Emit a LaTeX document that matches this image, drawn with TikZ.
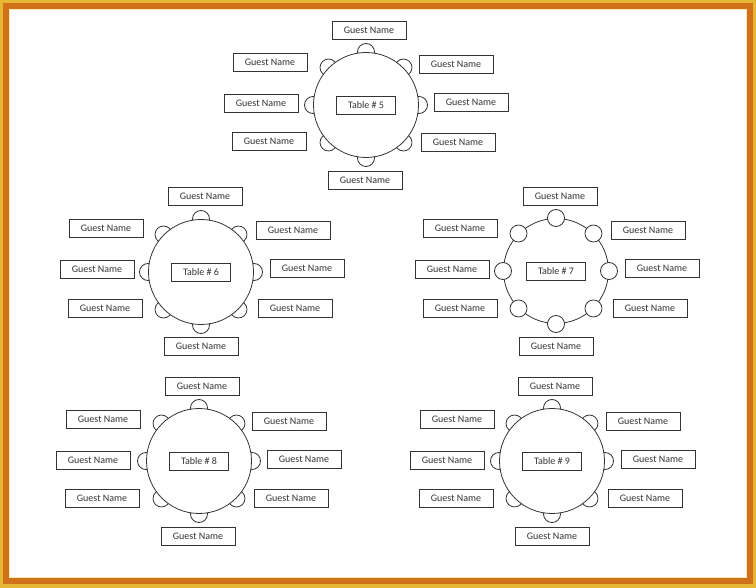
\documentclass[tikz,border=0pt]{standalone}
\usepackage{fontspec}
\setmainfont{Carlito}
\usepackage{tikz}
\definecolor{frameorange}{HTML}{D2711C}
\definecolor{framegold}{HTML}{E6B735}
\definecolor{framelight}{HTML}{F6EBA8}
\definecolor{inkgray}{HTML}{333333}

\begin{document}
\begin{tikzpicture}[x=1pt, y=-1pt,
  every node/.style={font=\fontsize{10}{12}\selectfont, text=inkgray},
  guest/.style={rectangle, draw=inkgray, line width=0.8pt, fill=white, minimum width=74pt, minimum height=18pt, inner sep=0pt},
  tablelabel/.style={rectangle, draw=inkgray, line width=0.8pt, fill=white, minimum width=59pt, minimum height=18pt, inner sep=0pt},
  roundtable/.style={circle, draw=inkgray, line width=0.8pt, fill=white, minimum size=105pt, inner sep=0pt},
  chair/.style={circle, draw=inkgray, line width=0.8pt, fill=white, minimum size=17pt, inner sep=0pt}]
  \useasboundingbox (0,0) rectangle (756,588);
  % frame
  \fill[framegold] (0,0) rectangle (756,588);
  \fill[frameorange] (3,3) rectangle (753,584);
  \fill[framelight] (9,9) rectangle (747,578);
  \fill[white] (10,10) rectangle (746,577);

  % table centres
  \coordinate (ctr5) at (366,105);
  \coordinate (ctr6) at (201,272);
  \coordinate (ctr7) at (556,271);
  \coordinate (ctr8) at (199,461);
  \coordinate (ctr9) at (552,461);

  % chairs tucked under the tables
  \foreach \t in {5,6,8,9}
    \foreach \a in {0,45,...,315}
      \node[chair] (chair\t-\a) at ([shift={(\a:53)}]ctr\t) {};

  \node[roundtable] (table5) at (ctr5) {};
  \node[roundtable] (table6) at (ctr6) {};
  \node[roundtable] (table7) at (ctr7) {};
  \node[roundtable] (table8) at (ctr8) {};
  \node[roundtable] (table9) at (ctr9) {};

  % chairs of table 7 sit on top
  \foreach \a in {0,45,...,315}
    \node[chair] (chair7-\a) at ([shift={(\a:53)}]ctr7) {};

  \node[tablelabel] (label5) at (ctr5) {Table \# 5};
  \node[tablelabel] (label6) at (ctr6) {Table \# 6};
  \node[tablelabel] (label7) at (ctr7) {Table \# 7};
  \node[tablelabel] (label8) at (ctr8) {Table \# 8};
  \node[tablelabel] (label9) at (ctr9) {Table \# 9};

  % guests of table 5
  \node[guest] (g5n) at (369,30) {Guest Name};
  \node[guest] (g5nw) at (270,62) {Guest Name};
  \node[guest] (g5w) at (261,103) {Guest Name};
  \node[guest] (g5sw) at (269,141) {Guest Name};
  \node[guest] (g5ne) at (456,64) {Guest Name};
  \node[guest] (g5e) at (471,102) {Guest Name};
  \node[guest] (g5se) at (458,142) {Guest Name};
  \node[guest] (g5s) at (365,180) {Guest Name};

  % guests of table 6
  \node[guest] (g6n) at (205,196) {Guest Name};
  \node[guest] (g6nw) at (106,228) {Guest Name};
  \node[guest] (g6w) at (97,269) {Guest Name};
  \node[guest] (g6sw) at (105,308) {Guest Name};
  \node[guest] (g6ne) at (293,230) {Guest Name};
  \node[guest] (g6e) at (307,268) {Guest Name};
  \node[guest] (g6se) at (295,308) {Guest Name};
  \node[guest] (g6s) at (201,346) {Guest Name};

  % guests of table 7
  \node[guest] (g7n) at (560,196) {Guest Name};
  \node[guest] (g7nw) at (460,228) {Guest Name};
  \node[guest] (g7w) at (452,269) {Guest Name};
  \node[guest] (g7sw) at (460,308) {Guest Name};
  \node[guest] (g7ne) at (648,230) {Guest Name};
  \node[guest] (g7e) at (662,268) {Guest Name};
  \node[guest] (g7se) at (650,308) {Guest Name};
  \node[guest] (g7s) at (556,346) {Guest Name};

  % guests of table 8
  \node[guest] (g8n) at (202,386) {Guest Name};
  \node[guest] (g8nw) at (103,419) {Guest Name};
  \node[guest] (g8w) at (93,460) {Guest Name};
  \node[guest] (g8sw) at (102,498) {Guest Name};
  \node[guest] (g8ne) at (289,421) {Guest Name};
  \node[guest] (g8e) at (304,459) {Guest Name};
  \node[guest] (g8se) at (291,498) {Guest Name};
  \node[guest] (g8s) at (198,536) {Guest Name};

  % guests of table 9
  \node[guest] (g9n) at (555,386) {Guest Name};
  \node[guest] (g9nw) at (457,419) {Guest Name};
  \node[guest] (g9w) at (447,460) {Guest Name};
  \node[guest] (g9sw) at (456,498) {Guest Name};
  \node[guest] (g9ne) at (643,421) {Guest Name};
  \node[guest] (g9e) at (658,459) {Guest Name};
  \node[guest] (g9se) at (645,498) {Guest Name};
  \node[guest] (g9s) at (552,536) {Guest Name};
\end{tikzpicture}
\end{document}
